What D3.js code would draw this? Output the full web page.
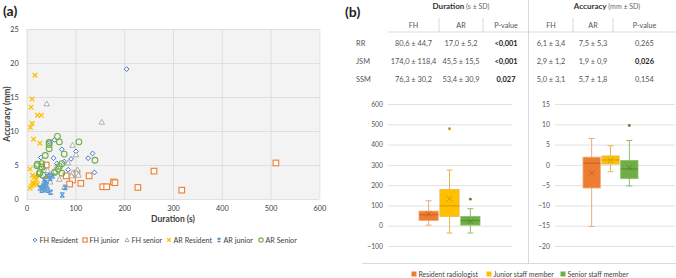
<!DOCTYPE html>
<html><head><meta charset="utf-8">
<script src="https://cdn.jsdelivr.net/npm/d3@7"></script>
<style>body{margin:0;background:#fff}svg{display:block;font-family:Lato,"Liberation Sans",sans-serif}</style>
</head><body><svg id="c" width="676" height="278"></svg>
<script>
// ---------- Data: panel (a) scatter ----------
const fhResident = [[205,19.1],[46,8.4],[57,8.7],[55,6.0],[72,7.3],[101,7.0],[91,5.9],[126,6.0],[135,6.7],[139,3.9],[85,4.3],[77,5.5],[29,6.1],[46,3.5],[62,5.2],[35,4.6]];
const fhJunior = [[511,5.3],[261,4.1],[318,1.3],[228,1.7],[178,2.5],[181,2.4],[156,1.8],[164,1.8],[128,3.4],[111,2.3],[94,2.8],[88,2.2],[81,3.4],[40,5.0],[42,2.9],[103,3.8]];
const fhSenior = [[41,14.0],[154,11.3],[94,7.9],[101,6.5],[85,5.3],[104,4.3],[103,3.8],[106,3.5],[94,3.8],[92,3.4],[67,2.9],[77,1.7],[43,4.2],[48,2.5],[58,4.0],[61,4.7]];
const arResident = [[17,18.2],[11,14.7],[9,13.5],[22,12.3],[30,12.3],[11,11.1],[7.5,10.5],[14,8.8],[27,8.2],[7,4.4],[12,3.5],[15,3.2],[19,2.9],[12,2.4],[17,2.3],[22,2.2],[10,1.9],[7,1.6],[14,2.1],[19,3.3]];
const arJunior = [[73,0.6],[49,1.0],[38,1.4],[33,1.6],[27,1.6],[34,1.9],[41,2.1],[38,2.4],[36,2.8],[44,3.3],[48,3.0],[53,3.4],[31,1.3],[43,1.3],[79,1.7]];
const arSenior = [[63,9.2],[67,8.4],[46,8.3],[46,8.0],[107,8.4],[46,7.4],[77,6.6],[38,6.4],[140,5.7],[72,5.2],[22,5.1],[21,4.9],[31,5.2],[31,4.7],[67,4.8],[57,3.9],[72,3.8],[27,3.9],[26,3.7],[33,3.5],[65,4.4]];
const seriesNames = ["FH Resident","FH junior","FH senior","AR Resident","AR junior","AR Senior"];
const xTicks = [0,100,200,300,400,500,600];
const yTicks = [0,5,10,15,20,25];

// ---------- Data: panel (b) table ----------
const tableGroups = ["RR","JSM","SSM"];
const tableCols = ["FH","AR","P-value","FH","AR","P-value"];
const durFH = ["80,6 ± 44,7","174,0 ± 118,4","76,3 ± 30,2"];
const durAR = ["17,0 ± 5,2","45,5 ± 15,5","53,4 ± 30,9"];
const durP = ["<0,001","<0,001","0,027"];
const accFH = ["6,1 ± 3,4","2,9 ± 1,2","5,0 ± 3,1"];
const accAR = ["7,5 ± 5,3","1,9 ± 0,9","5,7 ± 1,8"];
const accP = ["0,265","0,026","0,154"];
const pBold = [[true,true,true],[false,true,false]];

// ---------- Data: panel (b) boxplots ----------
const boxGroups = ["Resident radiologist","Junior staff member","Senior staff member"];
// [low whisker, q1, median, q3, high whisker, mean]
const durBox = [[3,26,54,72,123,59],[-36,46,98,179,274,133],[-36,3,25,46,84,21]];
const durOutliers = [[],[478],[131]];
const accBox = [[-15.2,-5.7,0.4,1.9,6.5,-2.0],[-1.7,0.2,1.2,2.2,4.7,1.1],[-5.2,-3.4,-1.0,1.1,6.0,-0.7]];
const accOutliers = [[],[],[9.7]];
const durTicks = [-100,0,100,200,300,400,500,600];
const accTicks = [-20,-15,-10,-5,0,5,10,15];

const svg = d3.select("#c");
const txt = "#404040";

// ================= Panel (a) =================
const x = d3.scaleLinear().domain([0,600]).range([26.7,319.3]);
const y = d3.scaleLinear().domain([0,25]).range([199,29]);
svg.append("rect").attr("x",x(0)).attr("y",y(25)).attr("width",x(600)-x(0)).attr("height",y(0)-y(25)).attr("fill","#f3f3f3");
const gx = svg.append("g").attr("transform",`translate(0,${y(0)})`)
  .call(d3.axisBottom(x).tickValues(xTicks).tickSize(-(y(0)-y(25))).tickPadding(7));
gx.select(".domain").remove();
gx.selectAll("line").attr("stroke","#d9d9d9").attr("stroke-width",0.8);
gx.selectAll("text").attr("font-size",7.3).attr("fill",txt).attr("font-family","Lato");
const gy = svg.append("g").attr("transform",`translate(${x(0)},0)`)
  .call(d3.axisLeft(y).tickValues(yTicks).tickSize(-(x(600)-x(0))).tickPadding(8));
gy.select(".domain").remove();
gy.selectAll("line").attr("stroke","#d9d9d9").attr("stroke-width",0.8);
gy.selectAll("text").attr("font-size",7.3).attr("fill",txt).attr("font-family","Lato");

svg.append("text").attr("x",3).attr("y",16).attr("font-size",14).attr("font-weight","bold").attr("fill","#222").text("(a)");
svg.append("text").attr("transform","translate(10,114) rotate(-90)").attr("text-anchor","middle").attr("font-size",8.5).attr("font-weight","bold").attr("fill",txt).text("Accuracy (mm)");
svg.append("text").attr("x",173).attr("y",222).attr("text-anchor","middle").attr("font-size",8.5).attr("font-weight","bold").attr("fill",txt).text("Duration (s)");

const markerDefs = [
  {data:fhResident,color:"#4472C4",shape:"diamond"},
  {data:fhJunior,color:"#ED7D31",shape:"square"},
  {data:fhSenior,color:"#A5A5A5",shape:"triangle"},
  {data:arResident,color:"#FFC000",shape:"x"},
  {data:arJunior,color:"#5B9BD5",shape:"star"},
  {data:arSenior,color:"#70AD47",shape:"circle"}
];
function drawMarker(g,shape,color,cx,cy,scale){
  const s = scale||1;
  if(shape==="diamond"){
    g.append("path").attr("d",`M${cx},${cy-2.4*s}L${cx+2.4*s},${cy}L${cx},${cy+2.4*s}L${cx-2.4*s},${cy}Z`).attr("fill","#fff").attr("stroke",color).attr("stroke-width",1);
  } else if(shape==="square"){
    g.append("rect").attr("x",cx-2.8*s).attr("y",cy-2.8*s).attr("width",5.6*s).attr("height",5.6*s).attr("fill","#fff").attr("stroke",color).attr("stroke-width",1.1);
  } else if(shape==="triangle"){
    g.append("path").attr("d",`M${cx},${cy-2.8*s}L${cx+2.7*s},${cy+2*s}L${cx-2.7*s},${cy+2*s}Z`).attr("fill","#fff").attr("stroke",color).attr("stroke-width",0.9);
  } else if(shape==="x"){
    const r=2.3*s;
    g.append("path").attr("d",`M${cx-r},${cy-r}L${cx+r},${cy+r}M${cx-r},${cy+r}L${cx+r},${cy-r}`).attr("stroke",color).attr("stroke-width",1.3);
  } else if(shape==="star"){
    const r=2.2*s;
    g.append("path").attr("d",`M${cx-r},${cy-r}L${cx+r},${cy+r}M${cx-r},${cy+r}L${cx+r},${cy-r}M${cx-r},${cy-r}L${cx+r},${cy-r}M${cx-r},${cy+r}L${cx+r},${cy+r}`).attr("stroke",color).attr("stroke-width",1.1);
  } else if(shape==="circle"){
    g.append("circle").attr("cx",cx).attr("cy",cy).attr("r",2.9*s).attr("fill","none").attr("stroke",color).attr("stroke-width",1.1);
  }
}
const pts = svg.append("g");
markerDefs.forEach(m=>{
  m.data.forEach(d=>drawMarker(pts,m.shape,m.color,x(d[0]),y(d[1])));
});
// legend (a)
const legX = [35,85,127,169,219,261];
markerDefs.forEach((m,i)=>{
  drawMarker(svg,m.shape,m.color,legX[i],240,0.75);
  svg.append("text").attr("x",legX[i]+4.5).attr("y",242.5).attr("font-size",7.2).attr("fill",txt).text(seriesNames[i]);
});

// ================= Panel (b) =================
svg.append("text").attr("x",345).attr("y",17).attr("font-size",14).attr("font-weight","bold").attr("fill","#222").text("(b)");
// table geometry
const colEdges = [388,439,483,529,573,613,676];
const colCenter = d3.range(6).map(i=>(colEdges[i]+colEdges[i+1])/2);
const rowY = d3.scalePoint().domain(tableGroups).range([45.5,81.5]);
const lineC = "#d0d0d0";
// header titles
const h1 = svg.append("text").attr("x",461).attr("y",8.5).attr("text-anchor","middle").attr("font-size",8).attr("fill","#333");
h1.append("tspan").attr("font-weight","bold").text("Duration");
h1.append("tspan").attr("font-size",7).attr("fill","#666").text(" (s ± SD)");
const h2 = svg.append("text").attr("x",607).attr("y",8.5).attr("text-anchor","middle").attr("font-size",8).attr("fill","#333");
h2.append("tspan").attr("font-weight","bold").text("Accuracy");
h2.append("tspan").attr("font-size",7).attr("fill","#666").text(" (mm ± SD)");
// column headers
tableCols.forEach((c,i)=>{
  svg.append("text").attr("x",colCenter[i]).attr("y",27.5).attr("text-anchor","middle").attr("font-size",7.2).attr("fill","#555").text(c);
});
[439,483,573,613].forEach(e=>svg.append("line").attr("x1",e).attr("x2",e).attr("y1",18).attr("y2",32).attr("stroke",lineC).attr("stroke-width",0.8));
svg.append("line").attr("x1",388).attr("x2",676).attr("y1",32).attr("y2",32).attr("stroke",lineC).attr("stroke-width",0.8);
// main vertical separator
svg.append("line").attr("x1",528.5).attr("x2",528.5).attr("y1",0).attr("y2",264).attr("stroke",lineC).attr("stroke-width",0.8);
// bottom horizontal line
svg.append("line").attr("x1",362).attr("x2",676).attr("y1",263.5).attr("y2",263.5).attr("stroke",lineC).attr("stroke-width",0.8);
// rows
const cols = [durFH,durAR,durP,accFH,accAR,accP];
tableGroups.forEach((g,r)=>{
  svg.append("text").attr("x",356).attr("y",rowY(g)).attr("font-size",7.4).attr("fill","#555").text(g);
  cols.forEach((col,ci)=>{
    const isP = ci===2||ci===5;
    const bold = isP && pBold[ci===2?0:1][r];
    svg.append("text").attr("x",colCenter[ci]).attr("y",rowY(g)).attr("text-anchor","middle").attr("font-size",7.4)
      .attr("font-weight",bold?"bold":"normal").attr("fill",bold?"#222":"#555").text(col[r]);
  });
});

// boxplots
const colors = ["#ED7D31","#FFC000","#70AD47"];
const darker = ["#c0602a","#c99700","#4f8a2c"];
const whisk = ["#f0a878","#e6b84a","#8fbd6b"];
function boxPanel(x0,x1,domain,ticks,stats,outliers,groupRange){
  const ys = d3.scaleLinear().domain(domain).range([246,104]);
  const g = svg.append("g");
  const ax = g.append("g").attr("transform",`translate(${x0},0)`)
    .call(d3.axisLeft(ys).tickValues(ticks).tickSize(-(x1-x0)).tickPadding(5));
  ax.select(".domain").remove();
  ax.selectAll("line").attr("stroke","#d9d9d9").attr("stroke-width",0.8);
  ax.selectAll("text").attr("font-size",6.8).attr("fill","#555").attr("font-family","Lato");
  const xb = d3.scaleBand().domain(boxGroups).range(groupRange).paddingInner(0.08);
  const bw = xb.bandwidth();
  boxGroups.forEach((grp,i)=>{
    const s = stats[i]; const bx = xb(grp); const cx = bx+bw/2;
    g.append("line").attr("x1",cx).attr("x2",cx).attr("y1",ys(s[0])).attr("y2",ys(s[1])).attr("stroke",whisk[i]).attr("stroke-width",1);
    g.append("line").attr("x1",cx).attr("x2",cx).attr("y1",ys(s[3])).attr("y2",ys(s[4])).attr("stroke",whisk[i]).attr("stroke-width",1);
    [s[0],s[4]].forEach(v=>g.append("line").attr("x1",cx-3).attr("x2",cx+3).attr("y1",ys(v)).attr("y2",ys(v)).attr("stroke",whisk[i]).attr("stroke-width",1));
    g.append("rect").attr("x",bx).attr("y",ys(s[3])).attr("width",bw).attr("height",ys(s[1])-ys(s[3]))
      .attr("fill",colors[i]).attr("stroke",whisk[i]).attr("stroke-width",0.8);
    g.append("line").attr("x1",bx).attr("x2",bx+bw).attr("y1",ys(s[2])).attr("y2",ys(s[2])).attr("stroke",darker[i]).attr("stroke-width",0.9);
    const m = ys(s[5]), r=2.6;
    g.append("path").attr("d",`M${cx-r},${m-r}L${cx+r},${m+r}M${cx-r},${m+r}L${cx+r},${m-r}`).attr("stroke",darker[i]).attr("stroke-width",0.9);
    outliers[i].forEach(v=>g.append("circle").attr("cx",cx).attr("cy",ys(v)).attr("r",1.4).attr("fill",darker[i]));
  });
}
boxPanel(388,512,[-100,600],durTicks,durBox,durOutliers,[419,480]);
boxPanel(555,675,[-20,15],accTicks,accBox,accOutliers,[583,638]);

// legend (b)
const legBX = [414,489,563];
boxGroups.forEach((g,i)=>{
  svg.append("rect").attr("x",legBX[i]-2.5).attr("y",271.5).attr("width",5).attr("height",5).attr("fill",colors[i]);
  svg.append("text").attr("x",legBX[i]+4.5).attr("y",276.5).attr("font-size",6.9).attr("fill","#444").text(g);
});
</script></body></html>
